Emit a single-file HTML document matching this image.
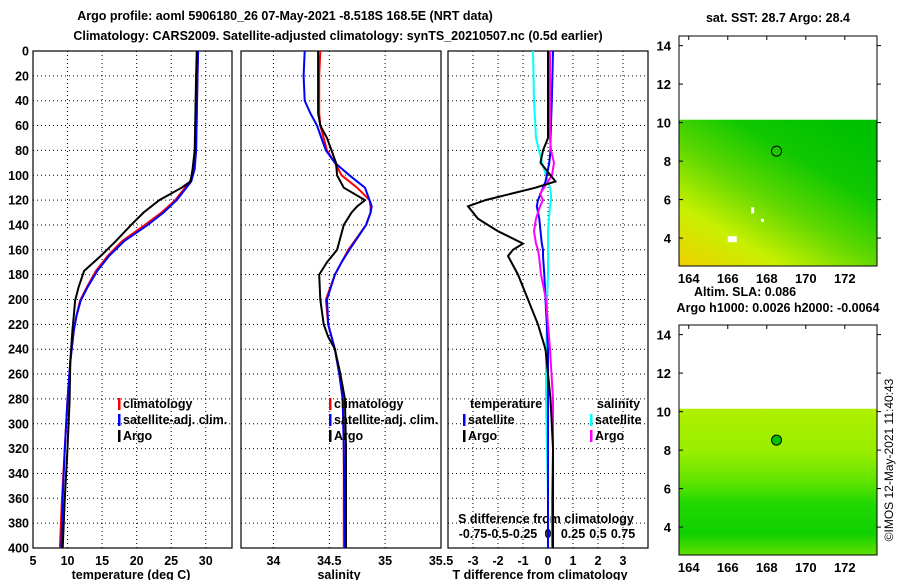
<!DOCTYPE html>
<html><head><meta charset="utf-8"><style>
body{margin:0;background:#fff}
svg{display:block;font-family:"Liberation Sans",sans-serif;font-weight:bold}
text{font-size:12.5px;fill:#000}
</style></head><body>
<svg id="chart" width="900" height="580" viewBox="0 0 900 580">
<defs>
<linearGradient id="sstg" x1="0" y1="1" x2="0.8" y2="0">
<stop offset="0" stop-color="#f0d000"/><stop offset="0.25" stop-color="#c8f000"/><stop offset="0.5" stop-color="#60d800"/><stop offset="0.75" stop-color="#10c800"/><stop offset="1" stop-color="#00c000"/></linearGradient>
<linearGradient id="slag" x1="0" y1="0" x2="0" y2="1">
<stop offset="0" stop-color="#b0f000"/><stop offset="0.3" stop-color="#98ee00"/><stop offset="0.5" stop-color="#60e400"/><stop offset="0.65" stop-color="#20d800"/><stop offset="0.85" stop-color="#10d000"/><stop offset="1" stop-color="#60e000"/></linearGradient>
</defs>
<text x="285" y="20" text-anchor="middle">Argo profile: aoml 5906180_26 07-May-2021 -8.518S 168.5E (NRT data)</text>
<text x="338" y="40" text-anchor="middle">Climatology: CARS2009. Satellite-adjusted climatology: synTS_20210507.nc (0.5d earlier)</text>
<g id="plots"></g>
<g id="maps"></g>
<text transform="translate(893,460) rotate(-90)" text-anchor="middle" style="font-weight:normal;font-size:12px">©IMOS 12-May-2021 11:40:43</text>
</svg>
<script>
// depths (m)
const depthT = [0,20,50,80,95,105,110,120,130,140,153,165,177,190,201,213,225,250,281,320,360,400];
const tClim  = [28.9,28.8,28.7,28.6,28.3,27.7,27.0,25.6,23.6,21.2,17.9,15.8,14.1,12.8,11.8,11.3,10.9,10.4,10.0,9.6,9.2,8.9];
const tSat   = [28.9,28.8,28.7,28.6,28.4,27.9,27.2,25.8,23.9,21.6,18.2,16.0,14.3,12.9,11.9,11.3,10.9,10.4,10.0,9.6,9.3,9.1];
const tArgo  = [28.7,28.6,28.5,28.4,28.1,27.8,26.5,23.3,21.0,19.2,17.0,14.8,12.4,11.6,11.1,10.9,10.7,10.4,10.3,10.0,9.6,9.3];
const depthS = [0,20,40,50,60,70,80,90,100,110,120,125,130,140,160,170,180,200,220,230,240,260,280,320,400];
const sClim  = [34.42,34.41,34.41,34.41,34.42,34.45,34.48,34.55,34.61,34.75,34.86,34.87,34.87,34.83,34.67,34.61,34.55,34.47,34.49,34.52,34.55,34.59,34.62,34.63,34.63];
const sSat   = [34.28,34.27,34.28,34.33,34.39,34.43,34.47,34.55,34.68,34.82,34.86,34.88,34.87,34.83,34.68,34.61,34.55,34.48,34.49,34.52,34.55,34.59,34.62,34.63,34.64];
const sArgo  = [34.40,34.40,34.40,34.40,34.42,34.48,34.52,34.56,34.57,34.63,34.82,34.75,34.70,34.63,34.57,34.48,34.41,34.42,34.45,34.49,34.55,34.60,34.64,34.65,34.65];
const depthD = [0,40,70,80,90,100,105,110,115,120,125,135,145,155,160,165,180,200,220,240,280,320,360,400];
const dTArgo = [0.0,0.0,0.0,-0.2,-0.3,0.1,0.3,-0.5,-1.5,-2.5,-3.2,-2.8,-2.0,-1.0,-1.4,-1.6,-1.2,-0.8,-0.4,-0.1,0.1,0.2,0.2,0.2];
const dTSat  = [0.2,0.15,0.1,0.1,0.05,-0.05,-0.1,-0.2,-0.3,-0.4,-0.45,-0.35,-0.3,-0.25,-0.2,-0.2,-0.15,-0.1,-0.05,0.0,0.0,0.0,0.0,0.0];
const dSArgo = [0.02,0.02,0.02,0.03,0.06,0.04,0.0,-0.04,-0.08,-0.05,-0.08,-0.12,-0.14,-0.12,-0.1,-0.09,-0.07,-0.02,0.0,0.02,0.05,0.05,0.04,0.04];
const dSSat  = [-0.15,-0.14,-0.12,-0.09,-0.06,-0.02,0.0,0.02,0.03,0.03,0.02,0.01,0.0,0.0,0.0,0.0,0.0,-0.01,-0.01,-0.02,-0.02,-0.01,0.0,0.0];
const depthTicks = [0,20,40,60,80,100,120,140,160,180,200,220,240,260,280,300,320,340,360,380,400];
const tTicks = [5,10,15,20,25,30];
const sTicks = [34,34.5,35,35.5];
const dTTicks = [-3,-2,-1,0,1,2,3];
const dSTickLabels = ["-0.75","-0.5","-0.25","0","0.25","0.5","0.75"];
const lonTicks = [164,166,168,170,172];
const latTicks = [4,6,8,10,12,14];

const NS='http://www.w3.org/2000/svg';
const plots=document.getElementById('plots'), maps=document.getElementById('maps');
function mk(tag,attrs,parent){const e=document.createElementNS(NS,tag);for(const k in attrs)e.setAttribute(k,attrs[k]);parent.appendChild(e);return e;}
const Y0=51,Y1=548;
const yD=d=>Y0+(d/400)*(Y1-Y0);
const panels=[
 {x0:33,x1:232,lo:5,hi:33.8,name:'temperature'},
 {x0:241,x1:441,lo:33.71,hi:35.5,name:'salinity'},
 {x0:448,x1:648,lo:-4,hi:4,name:'difference'}];
panels.forEach(p=>{p.sx=v=>p.x0+(v-p.lo)/(p.hi-p.lo)*(p.x1-p.x0);});
const sxS=v=>panels[2].sx(v*4);

function grid(p,ticks){
 depthTicks.forEach(d=>{if(d>0&&d<400){const l=mk('line',{x1:p.x0,x2:p.x1,y1:yD(d),y2:yD(d),stroke:'#000','stroke-dasharray':'1 3'},plots);
 }});
 ticks.forEach(t=>{const x=p.sx(t);if(x>p.x0+1&&x<p.x1-1){const l=mk('line',{x1:x,x2:x,y1:Y0,y2:Y1,stroke:'#000','stroke-dasharray':'1 3'},plots);
 }});
 const r=mk('rect',{x:p.x0,y:Y0,width:p.x1-p.x0,height:Y1-Y0,fill:'none',stroke:'#000','stroke-width':1.2},plots);
 
}
function line(depths,vals,fx,color,name){
 const pts=depths.map((d,i)=>fx(vals[i]).toFixed(1)+','+yD(d).toFixed(1)).join(' ');
 const l=mk('polyline',{points:pts,fill:'none',stroke:color,'stroke-width':2},plots);
 
}
function txt(x,y,s,parent,anchor,name,extra){const t=mk('text',Object.assign({x:x,y:y,'text-anchor':anchor||'middle'},extra||{}),parent);t.textContent=s;
 return t;}

grid(panels[0],tTicks);grid(panels[1],sTicks);grid(panels[2],dTTicks);
depthTicks.forEach(d=>txt(29,yD(d)+4.5,String(d),plots,'end','depth-tick-label'));
tTicks.forEach(t=>txt(panels[0].sx(t),565,String(t),plots,'middle','temperature-tick-label'));
sTicks.forEach(t=>txt(panels[1].sx(t),565,String(t),plots,'middle','salinity-tick-label'));
dTTicks.forEach(t=>txt(panels[2].sx(t),565,String(t),plots,'middle','t-diff-tick-label'));
dSTickLabels.forEach((s,i)=>txt(sxS(parseFloat(s)),538,s,plots,'middle','s-diff-tick-label'));
txt(131,579,'temperature (deg C)',plots,'middle','x-axis-title-temperature');
txt(339,579,'salinity',plots,'middle','x-axis-title-salinity');
txt(540,579,'T difference from climatology',plots,'middle','x-axis-title-t-diff');
txt(546,523,'S difference from climatology',plots,'middle','s-diff-axis-title');

line(depthT,tClim,panels[0].sx,'#f00','temp-climatology-line');
line(depthT,tSat,panels[0].sx,'#00f','temp-satellite-line');
line(depthT,tArgo,panels[0].sx,'#000','temp-argo-line');
line(depthS,sClim,panels[1].sx,'#f00','sal-climatology-line');
line(depthS,sSat,panels[1].sx,'#00f','sal-satellite-line');
line(depthS,sArgo,panels[1].sx,'#000','sal-argo-line');
line(depthD,dSSat,sxS,'#0ff','s-diff-satellite-line');
line(depthD,dTSat,panels[2].sx,'#00f','t-diff-satellite-line');
line(depthD,dSArgo,sxS,'#f0f','s-diff-argo-line');
line(depthD,dTArgo,panels[2].sx,'#000','t-diff-argo-line');

function leg(x,y,color,label,name){const r=mk('rect',{x:x,y:y-10,width:2.5,height:12,fill:color},plots);
 
 txt(x+5,y,label,plots,'start',name);}
leg(118,408,'#f00','climatology','legend-climatology');
leg(118,424,'#00f','satellite-adj. clim.','legend-satellite-adj');
leg(118,440,'#000','Argo','legend-argo');
leg(329,408,'#f00','climatology','legend2-climatology');
leg(329,424,'#00f','satellite-adj. clim.','legend2-satellite-adj');
leg(329,440,'#000','Argo','legend2-argo');
txt(470,408,'temperature',plots,'start','legend-temperature-heading');
txt(597,408,'salinity',plots,'start','legend-salinity-heading');
leg(463,424,'#00f','satellite','legend-t-satellite');
leg(463,440,'#000','Argo','legend-t-argo');
leg(590,424,'#0ff','satellite','legend-s-satellite');
leg(590,440,'#f0f','Argo','legend-s-argo');

// maps
function map(top,bot,fill,name,dotFill){
 const x0=679,x1=877,latTop=14.5,latBot=2.55;
 const ly=l=>top+(latTop-l)/(latTop-latBot)*(bot-top);
 const lx=l=>x0+(l-163.5)/(173.65-163.5)*(x1-x0);
 const g=mk('rect',{x:x0,y:ly(10.15),width:x1-x0,height:bot-ly(10.15),fill:fill},maps);
 
 const f=mk('rect',{x:x0,y:top,width:x1-x0,height:bot-top,fill:'none',stroke:'#000','stroke-width':1},maps);
 
 latTicks.forEach(l=>{txt(x0-8,ly(l)+5,String(l),maps,'end',name+'-lat-label',{style:'font-size:13px'});
  mk('line',{x1:x0,x2:x0+4,y1:ly(l),y2:ly(l),stroke:'#000'},maps);mk('line',{x1:x1,x2:x1+4,y1:ly(l),y2:ly(l),stroke:'#000'},maps);});
 lonTicks.forEach(l=>{txt(lx(l),bot+17,String(l),maps,'middle',name+'-lon-label',{style:'font-size:13px'});
  mk('line',{x1:lx(l),x2:lx(l),y1:top,y2:top+4,stroke:'#000'},maps);});
 const c=mk('circle',{cx:lx(168.5),cy:ly(8.518),r:5,fill:dotFill,stroke:'#000'},maps);
 
 return {lx,ly};
}
const m1=map(36,266,'url(#sstg)','sst-map','none');
[[166,4.1,9,6],[167.2,5.6,3,6],[167.7,5.0,3,3]].forEach(a=>mk('rect',{x:m1.lx(a[0]),y:m1.ly(a[1]),width:a[2],height:a[3],fill:'#fff'},maps));
const m2=map(325,555,'url(#slag)','sla-map','#00c000');
txt(778,22,'sat. SST: 28.7 Argo: 28.4',maps,'middle','sst-map-title');
txt(745,296,'Altim. SLA: 0.086',maps,'middle','sla-label');
txt(778,312,'Argo h1000: 0.0026 h2000: -0.0064',maps,'middle','sla-map-title');
</script>
</body></html>
